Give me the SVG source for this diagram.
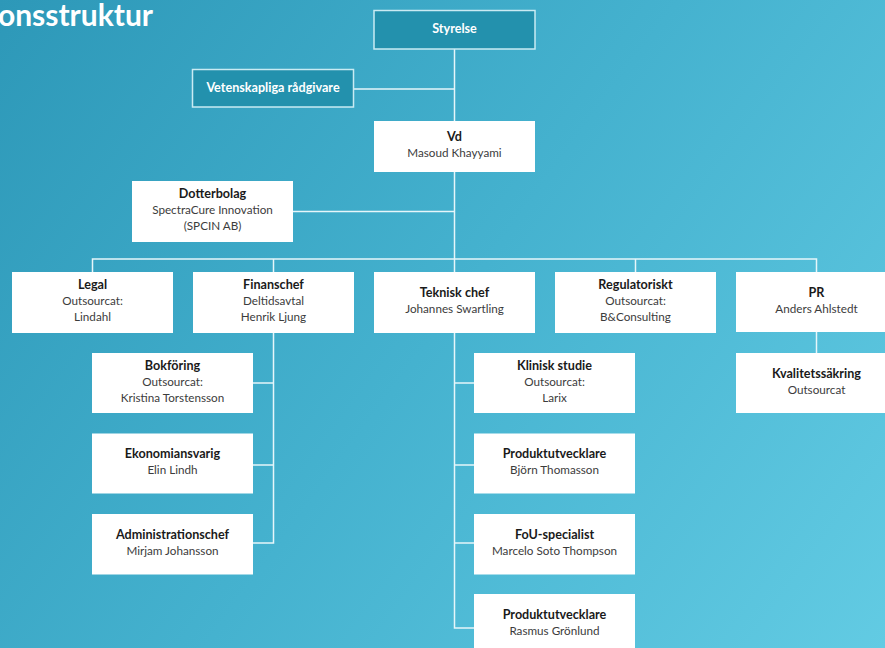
<svg xmlns="http://www.w3.org/2000/svg" width="885" height="648" viewBox="0 0 885 648">
<defs>
<linearGradient id="bg" x1="0" y1="0" x2="885" y2="648" gradientUnits="userSpaceOnUse">
<stop offset="0" stop-color="#2d98b8"/>
<stop offset="0.5" stop-color="#45b2cf"/>
<stop offset="1" stop-color="#62cbe3"/>
</linearGradient>
<style>
.box{fill:#ffffff}
.dark{fill:#2391ad;stroke:#c9ebf3;stroke-width:1.5}
.t{font-family:Lato,"Open Sans","Noto Sans",sans-serif;font-size:11.7px;text-anchor:middle}
.b{font-weight:bold;fill:#1a1a1a;font-size:12.6px}
.n{fill:#3c3c3c}
.w{font-weight:bold;fill:#ffffff;font-size:12.6px}
.ln{stroke:#e6f6fa;stroke-width:1.5;fill:none}
</style>
</defs>
<rect width="885" height="648" fill="url(#bg)"/>
<text x="153" y="26" font-family="Lato,'Open Sans',sans-serif" font-size="30" font-weight="bold" fill="#ffffff" text-anchor="end">onsstruktur</text>
<g id="connectors" class="ln">
<path d="M454.5 49 V121"/>
<path d="M354 89 H454.5"/>
<path d="M454.5 172 V272"/>
<path d="M293 211.5 H454.5"/>
<path d="M92.5 272 V259 H816.5 V272"/>
<path d="M273.5 259 V272"/>
<path d="M635.5 259 V272"/>
<path d="M273.5 333 V543 H253"/>
<path d="M253 383 H273.5"/>
<path d="M253 465 H273.5"/>
<path d="M454.5 333 V628 H474"/>
<path d="M454.5 383 H474"/>
<path d="M454.5 465 H474"/>
<path d="M454.5 543 H474"/>
<path d="M816.5 332 V353"/>
</g>
<g id="styrelse"><rect class="dark" x="374" y="10.5" width="161" height="38.5"/><text class="t w" x="454.5" y="32.5">Styrelse</text></g>
<g id="vetenskapliga"><rect class="dark" x="192.5" y="69.5" width="161" height="37.5"/><text class="t w" x="273" y="92">Vetenskapliga rådgivare</text></g>
<g id="vd"><rect class="box" x="374" y="121" width="161" height="51"/><text class="t b" x="454.5" y="141">Vd</text><text class="t n" x="454.5" y="157">Masoud Khayyami</text></g>
<g id="dotterbolag"><rect class="box" x="132" y="181" width="161" height="61"/><text class="t b" x="212.5" y="198">Dotterbolag</text><text class="t n" x="212.5" y="214">SpectraCure Innovation</text><text class="t n" x="212.5" y="230">(SPCIN AB)</text></g>
<g id="legal"><rect class="box" x="12" y="272" width="161" height="61"/><text class="t b" x="92.5" y="289">Legal</text><text class="t n" x="92.5" y="305">Outsourcat:</text><text class="t n" x="92.5" y="321">Lindahl</text></g>
<g id="finanschef"><rect class="box" x="193" y="272" width="161" height="61"/><text class="t b" x="273.5" y="289">Finanschef</text><text class="t n" x="273.5" y="305">Deltidsavtal</text><text class="t n" x="273.5" y="321">Henrik Ljung</text></g>
<g id="teknisk"><rect class="box" x="374" y="272" width="161" height="61"/><text class="t b" x="454.5" y="297">Teknisk chef</text><text class="t n" x="454.5" y="313">Johannes Swartling</text></g>
<g id="regulatoriskt"><rect class="box" x="555" y="272" width="161" height="61"/><text class="t b" x="635.5" y="289">Regulatoriskt</text><text class="t n" x="635.5" y="305">Outsourcat:</text><text class="t n" x="635.5" y="321">B&amp;Consulting</text></g>
<g id="pr"><rect class="box" x="736" y="272" width="161" height="60"/><text class="t b" x="816.5" y="297">PR</text><text class="t n" x="816.5" y="313">Anders Ahlstedt</text></g>
<g id="kvalitet"><rect class="box" x="736" y="353" width="161" height="60"/><text class="t b" x="816.5" y="378">Kvalitetssäkring</text><text class="t n" x="816.5" y="394">Outsourcat</text></g>
<g id="bokforing"><rect class="box" x="92" y="353" width="161" height="60"/><text class="t b" x="172.5" y="370">Bokföring</text><text class="t n" x="172.5" y="386">Outsourcat:</text><text class="t n" x="172.5" y="402">Kristina Torstensson</text></g>
<g id="ekonomi"><rect class="box" x="92" y="433.5" width="161" height="60"/><text class="t b" x="172.5" y="458">Ekonomiansvarig</text><text class="t n" x="172.5" y="474">Elin Lindh</text></g>
<g id="admin"><rect class="box" x="92" y="514" width="161" height="60.5"/><text class="t b" x="172.5" y="539">Administrationschef</text><text class="t n" x="172.5" y="555">Mirjam Johansson</text></g>
<g id="klinisk"><rect class="box" x="474" y="353" width="161" height="60"/><text class="t b" x="554.5" y="370">Klinisk studie</text><text class="t n" x="554.5" y="386">Outsourcat:</text><text class="t n" x="554.5" y="402">Larix</text></g>
<g id="produkt1"><rect class="box" x="474" y="433.5" width="161" height="60"/><text class="t b" x="554.5" y="458">Produktutvecklare</text><text class="t n" x="554.5" y="474">Björn Thomasson</text></g>
<g id="fou"><rect class="box" x="474" y="514" width="161" height="60.5"/><text class="t b" x="554.5" y="539">FoU-specialist</text><text class="t n" x="554.5" y="555">Marcelo Soto Thompson</text></g>
<g id="produkt2"><rect class="box" x="474" y="594" width="161" height="60"/><text class="t b" x="554.5" y="619">Produktutvecklare</text><text class="t n" x="554.5" y="635">Rasmus Grönlund</text></g>
</svg>
